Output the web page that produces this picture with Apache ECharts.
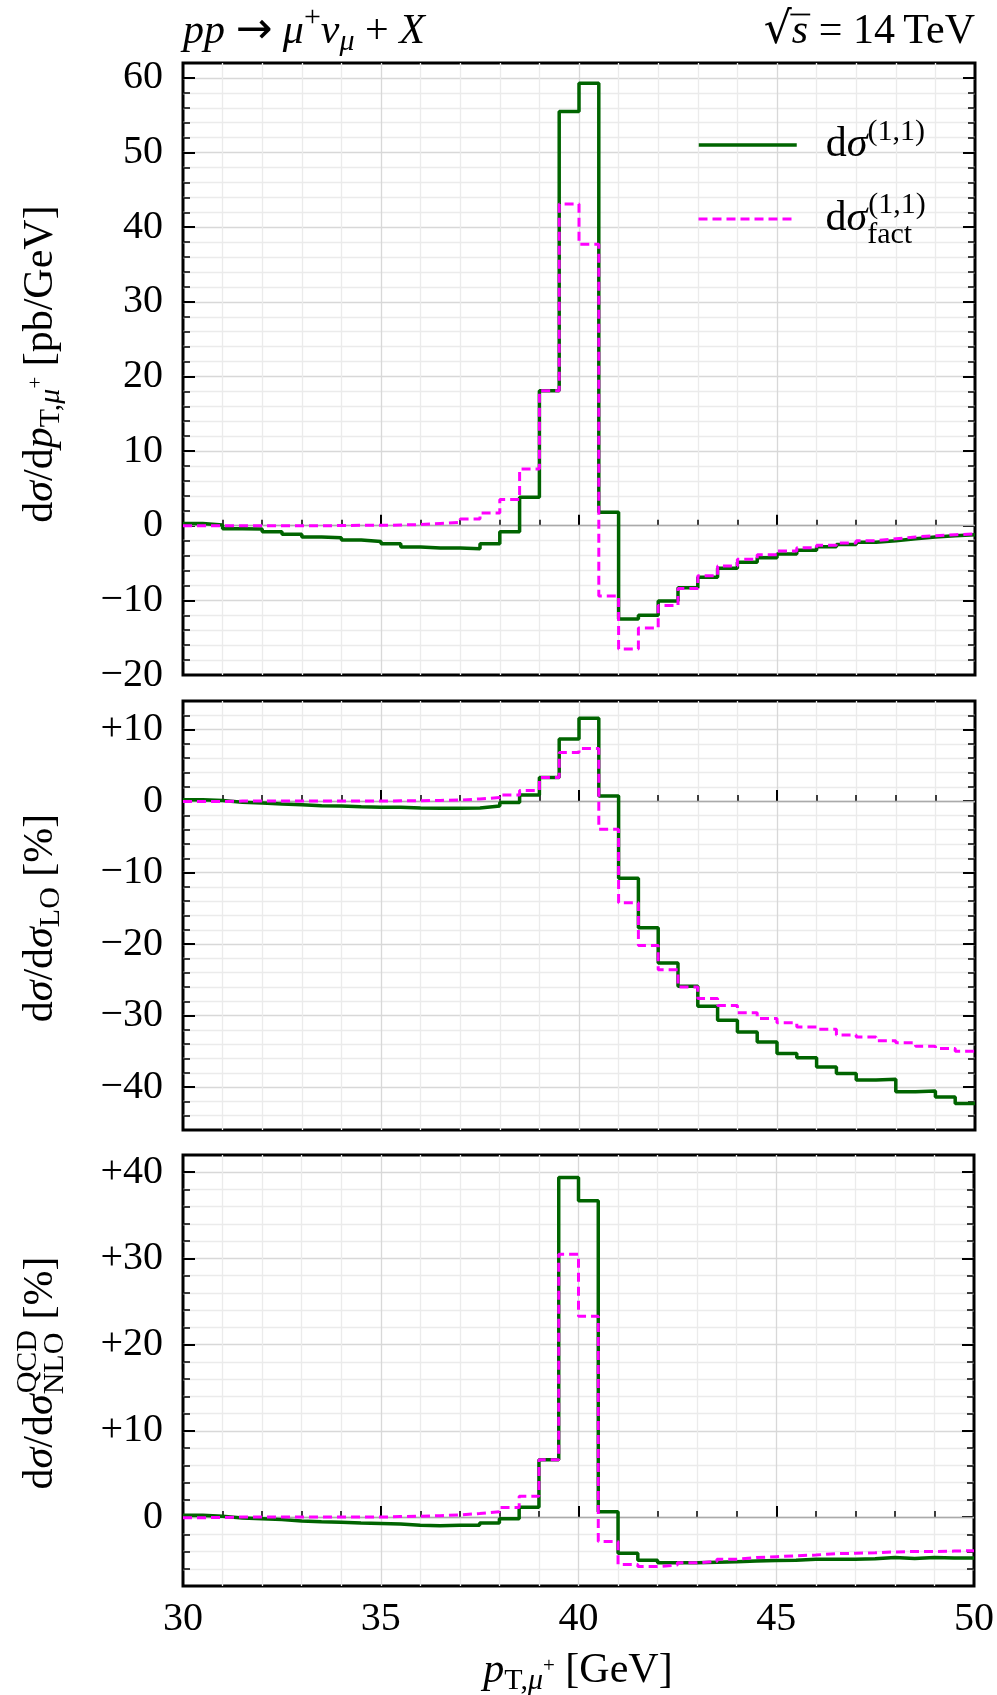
<!DOCTYPE html>
<html><head><meta charset="utf-8">
<script src="https://cdn.jsdelivr.net/npm/echarts@6/dist/echarts.min.js"></script>
<style>html,body{margin:0;padding:0;background:#fff}#c{width:997px;height:1695px}</style>
</head><body><div id="c"></div>
<script>
// ---------------- data ----------------
const binEdges = [30,30.5,31,31.5,32,32.5,33,33.5,34,34.5,35,35.5,36,36.5,37,37.5,38,38.5,39,39.5,
                  40,40.5,41,41.5,42,42.5,43,43.5,44,44.5,45,45.5,46,46.5,47,47.5,48,48.5,49,49.5,50];
const xTickLabels = [30,35,40,45,50];

// panel 1: dσ/dpT [pb/GeV]
const absFull = [0.3,0.1,-0.4,-0.45,-0.8,-1.15,-1.5,-1.6,-1.9,-2.1,-2.4,-2.85,-3.0,-3.0,-3.1,-2.4,-0.8,3.8,18.1,55.5,
                 59.3,1.8,-12.5,-12.0,-10.1,-8.3,-6.9,-5.7,-4.9,-4.3,-3.8,-3.3,-2.8,-2.5,-2.2,-2.0,-1.75,-1.5,-1.35,-1.2];
const absFact = [0.0,0.0,0.0,0.0,0.0,0.0,0.0,0.02,0.05,0.05,0.1,0.15,0.3,0.45,0.9,1.7,3.5,7.6,18.1,43.1,
                 37.7,-9.4,-16.5,-13.7,-10.7,-8.4,-6.7,-5.4,-4.5,-3.9,-3.4,-2.95,-2.6,-2.3,-2.0,-1.75,-1.5,-1.35,-1.2,-1.1];
// panel 2: dσ/dσ_LO [%]
const relLOFull = [0.2,0.1,-0.15,-0.25,-0.4,-0.5,-0.65,-0.7,-0.8,-0.85,-0.85,-0.95,-1.0,-1.0,-0.95,-0.7,-0.2,0.85,3.3,8.7,
                   11.6,0.7,-10.8,-17.7,-22.65,-25.9,-28.7,-30.65,-32.3,-33.7,-35.3,-35.9,-37.2,-38.1,-39.0,-38.9,-40.65,-40.55,-41.4,-42.3];
const relLOFact = [-0.05,-0.05,0.0,0.0,0.0,0.0,0.0,0.0,0.0,0.0,0.05,0.05,0.1,0.15,0.3,0.5,0.85,1.5,3.3,6.8,
                   7.35,-3.95,-14.2,-20.2,-23.6,-26.0,-27.6,-28.6,-29.6,-30.4,-31.0,-31.6,-31.9,-32.7,-33.0,-33.5,-33.8,-34.3,-34.6,-35.0];
// panel 3: dσ/dσ_NLO^QCD [%]
const relNLOFull = [0.2,0.1,-0.1,-0.2,-0.3,-0.45,-0.55,-0.6,-0.7,-0.75,-0.8,-0.95,-1.0,-0.95,-0.95,-0.7,-0.2,1.15,6.65,39.4,
                    36.7,0.6,-4.2,-5.0,-5.3,-5.3,-5.25,-5.2,-5.1,-5.05,-5.0,-4.9,-4.9,-4.9,-4.85,-4.7,-4.8,-4.7,-4.75,-4.75];
const relNLOFact = [-0.08,-0.05,0.0,0.0,0.0,0.0,0.0,0.0,0.0,0.0,0.05,0.1,0.15,0.25,0.4,0.6,1.1,2.4,6.65,30.5,
                    23.3,-2.85,-5.5,-5.75,-5.55,-5.3,-5.15,-4.9,-4.7,-4.6,-4.5,-4.4,-4.25,-4.2,-4.15,-4.05,-4.0,-4.0,-3.95,-3.9];

const yRanges = [[-20,62],[-46,14],[-8,42]];

// ---------------- layout / style ----------------
const FONT = '"Liberation Serif", "Times New Roman", serif';
const GREEN = '#006400', MAGENTA = '#ff00ff';
const GRIDS = [
  {left:183, top:63, width:792, height:612},
  {left:183, top:701, width:792, height:429},
  {left:183, top:1155, width:792, height:431}
];
const minus = v => (v < 0 ? '\u2212' + (-v) : String(v));
const labelFmt = [
  v => (v % 10 === 0 ? minus(v) : ''),
  v => (v % 10 === 0 ? (v > 0 ? '+' + v : minus(v)) : ''),
  v => (v % 10 === 0 ? (v > 0 ? '+' + v : minus(v)) : '')
];
const steps = vals => binEdges.map((e, i) => [e, vals[Math.min(i, vals.length - 1)]]);
const panels = [[absFull, absFact],[relLOFull, relLOFact],[relNLOFull, relNLOFact]];

const tickLine = {color:'#000', width:2};
const xAxes = GRIDS.map((g, i) => ({
  type:'value', gridIndex:i, min:30, max:50, interval:5,
  axisLine:{show:false},
  axisTick:{show:true, inside:true, length:11, lineStyle:tickLine},
  minorTick:{show:true, splitNumber:5, length:6, lineStyle:{color:'#000', width:1.5}},
  splitLine:{show:true, showMinLine:false, showMaxLine:false, lineStyle:{color:'#d8d8d8', width:1.3}},
  minorSplitLine:{show:true, lineStyle:{color:'#ebebeb', width:1.3}},
  axisLabel:{show:i === 2, margin:13, fontSize:40, fontFamily:FONT, color:'#000',
             formatter: v => (xTickLabels.indexOf(v) >= 0 ? String(v) : '')}
}));
const yAxes = [];
GRIDS.forEach((g, i) => {
  const base = {type:'value', gridIndex:i, min:yRanges[i][0], max:yRanges[i][1], minInterval:10, maxInterval:10,
    axisLine:{show:false},
    axisTick:{show:true, inside:true, length:12, lineStyle:tickLine},
    minorTick:{show:true, splitNumber:5, length:7, lineStyle:{color:'#000', width:1.5}}};
  yAxes.push(Object.assign({}, base, {position:'left',
    splitLine:{show:true, showMinLine:false, showMaxLine:false, lineStyle:{color:'#d8d8d8', width:1.3}},
    minorSplitLine:{show:true, lineStyle:{color:'#ebebeb', width:1.3}},
    axisLabel:{show:true, margin:20, fontSize:40, fontFamily:FONT, color:'#000', formatter:labelFmt[i]}}));
  yAxes.push(Object.assign({}, base, {position:'right',
    splitLine:{show:false}, minorSplitLine:{show:false}, axisLabel:{show:false}}));
});

const series = [];
panels.forEach((p, i) => {
  series.push({type:'line', name:'zero'+i, xAxisIndex:i, yAxisIndex:2*i, data:[], z:1, silent:true,
    markLine:{silent:true, z:1, symbol:['none','none'], label:{show:false}, animation:false,
      lineStyle:{color:'#aaaaaa', width:1.3, type:'solid'}, data:[{yAxis:0}]}});
  series.push({type:'line', name:'full', xAxisIndex:i, yAxisIndex:2*i, step:'end', symbol:'none',
    data:steps(p[0]), lineStyle:{color:GREEN, width:3.5}, itemStyle:{color:GREEN}, z:3});
  series.push({type:'line', name:'fact', xAxisIndex:i, yAxisIndex:2*i, step:'end', symbol:'none',
    data:steps(p[1]), lineStyle:{color:MAGENTA, width:3, type:[9,5]}, itemStyle:{color:MAGENTA}, z:4});
});

// rich text helpers (zrender style for graphic)
const fnt = (st, sz, fam) => st + ' ' + sz + 'px ' + (fam || FONT);
const tok = (st, sz, pad, extra) => Object.assign({font:fnt(st, sz), fill:'#000', verticalAlign:'middle', align:'left', padding:pad || [0,0,0,0]}, extra || {});
const RICH = {
  r: tok('normal', 42), i: tok('italic', 42),
  ar: Object.assign(tok('normal', 42), {font:fnt('normal', 44, '"DejaVu Sans"')}),
  rad: Object.assign(tok('normal', 42), {font:fnt('normal', 44, '"DejaVu Serif"')}),
  sb: tok('normal', 30, [21,0,0,0]), sbi: tok('italic', 30, [21,0,0,0]),
  sbp: tok('normal', 21, [0,0,9,0]),
  sp: tok('normal', 30, [0,0,26,0]),
  sbs: tok('normal', 30, [29,0,0,0], {width:1}),
  sps: tok('normal', 30, [0,0,26,0])
};
const txt = (text, x, y, opts) => Object.assign({type:'text', x:x, y:y, silent:true,
  style:{text:text, rich:RICH, font:fnt('normal',42), fill:'#000', align:'center', verticalAlign:'middle'}}, opts || {});

// measure for sqrt bar
const cx = document.createElement('canvas').getContext('2d');
const tw = (f, s) => { cx.font = f; return cx.measureText(s).width; };
const wRad = tw(RICH.rad.font, '\u221A'), wS = tw(fnt('italic',42), 's'), wRest = tw(fnt('normal',42), ' = 14\u2009TeV');
const rx0 = 975 - (wRad + wS + wRest);
const titleY = 31.5;
const leftTitle = '{i|pp}{r| }{ar|\u2192}{r| }{i|\u03BC}{sp|+}{i|\u03BD}{sbi|\u03BC}{r| + }{i|X}';

const graphic = [
  txt('', 183, titleY, {style:{text:leftTitle, rich:RICH, fill:'#000', align:'left', verticalAlign:'middle'}}),
  txt('', rx0, titleY, {style:{text:'{rad|\u221A}{i|s}{r| = 14\u2009TeV}', rich:RICH, fill:'#000', align:'left', verticalAlign:'middle'}}),
  {type:'line', silent:true, shape:{x1:rx0 + wRad - 1.5, y1:titleY - 17, x2:rx0 + wRad + wS + 2, y2:titleY - 17}, style:{stroke:'#000', lineWidth:1.8}},
  txt('{r|d}{i|\u03C3}{r|/d}{i|p}{sb|T,}{sbi|\u03BC}{sbp|+}{r| [pb/GeV]}', 41, 364, {rotation:Math.PI/2}),
  txt('{r|d}{i|\u03C3}{r|/d}{i|\u03C3}{sb|LO}{r| [%]}', 41, 918, {rotation:Math.PI/2}),
  txt('{r|d}{i|\u03C3}{r|/d}{i|\u03C3}{sbs|NLO}{sps|QCD}{r| [%]}', 41, 1373, {rotation:Math.PI/2}),
  txt('{i|p}{sb|T,}{sbi|\u03BC}{sbp|+}{r| [GeV]}', 578, 1671)
];

// legend rich (echarts style)
const LR = {
  r0:{fontFamily:FONT, fontSize:42, color:'#000', verticalAlign:'middle', padding:[0,0,0,24]},
  i:{fontFamily:FONT, fontSize:42, fontStyle:'italic', color:'#000', verticalAlign:'middle'},
  sp:{fontFamily:FONT, fontSize:30, color:'#000', verticalAlign:'middle', padding:[0,0,26,0]},
  sbs:{fontFamily:FONT, fontSize:30, color:'#000', verticalAlign:'middle', align:'left', padding:[32,0,0,0], width:1},
  sps:{fontFamily:FONT, fontSize:30, color:'#000', verticalAlign:'middle', padding:[0,0,28,0]}
};
const legendBase = {orient:'vertical', left:697, padding:0, itemWidth:98, itemHeight:14, selectedMode:false,
  itemStyle:{opacity:0}, textStyle:{rich:LR, fontFamily:FONT, fontSize:42, color:'#000'}};

const chart = echarts.init(document.getElementById('c'), null, {renderer:'canvas'});
chart.setOption({
  animation:false,
  backgroundColor:'#fff',
  grid: GRIDS.map(g => Object.assign({show:true, borderColor:'#000', borderWidth:3, backgroundColor:'transparent'}, g)),
  xAxis: xAxes,
  yAxis: yAxes,
  legend:[
    Object.assign({}, legendBase, {top:117, data:['full'], lineStyle:{width:3.5, color:GREEN},
      formatter:() => '{r0|d}{i|\u03C3}{sp|(1,1)}'}),
    Object.assign({}, legendBase, {top:190, data:['fact'], lineStyle:{width:3, color:MAGENTA, type:[9,5]},
      formatter:() => '{r0|d}{i|\u03C3}{sbs|fact}{sps|(1,1)}'})
  ],
  graphic: graphic,
  series: series
});
</script></body></html>
